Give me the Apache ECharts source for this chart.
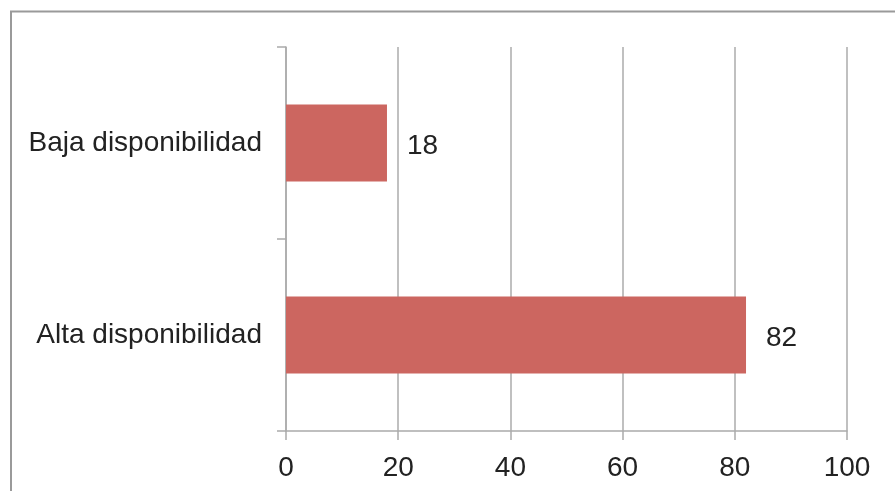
<!DOCTYPE html>
<html>
<head>
<meta charset="utf-8">
<script src="https://cdn.jsdelivr.net/npm/echarts@6/dist/echarts.min.js"></script>
<style>
html,body{margin:0;padding:0;background:#fff;}
#main{width:895px;height:491px;}
</style>
</head>
<body>
<div id="main"></div>
<script>
// data
let categories = ['Baja disponibilidad', 'Alta disponibilidad'];
let values = [18, 82];
let xTicks = [0, 20, 40, 60, 80, 100];

let myChart = echarts.init(document.getElementById('main'));
let gridColor = '#ababab';
let option = {
    animation: false,
    graphic: [{
        type: 'rect',
        shape: {x: 11, y: 11.5, width: 900, height: 500},
        style: {fill: 'none', stroke: '#9a9a9a', lineWidth: 2},
        silent: true
    }],
    grid: {left: 286, right: 48, top: 47, bottom: 60, containLabel: false},
    xAxis: {
        type: 'value',
        min: xTicks[0],
        max: xTicks[xTicks.length - 1],
        interval: 20,
        axisLine: {show: true, lineStyle: {color: gridColor, width: 1.5}},
        axisTick: {show: true, length: 9, lineStyle: {color: gridColor, width: 1.5}},
        splitLine: {show: true, lineStyle: {color: gridColor, width: 1.5}},
        axisLabel: {color: '#222', fontSize: 28, fontFamily: 'Liberation Sans', margin: 23}
    },
    yAxis: {
        type: 'category',
        inverse: true,
        data: categories,
        axisLine: {show: true, lineStyle: {color: gridColor, width: 1.5}},
        axisTick: {show: true, length: 9, lineStyle: {color: gridColor, width: 1.5}},
        axisLabel: {color: '#222', fontSize: 28, fontFamily: 'Liberation Sans', margin: 24, padding: [9, 0, 0, 0]}
    },
    series: [{
        type: 'bar',
        data: values,
        barWidth: '40%',
        itemStyle: {color: '#cc6660'},
        label: {
            show: true,
            position: 'right',
            distance: 20,
            offset: [0, 3],
            color: '#222',
            fontSize: 28,
            fontFamily: 'Liberation Sans'
        }
    }]
};
myChart.setOption(option);
</script>
</body>
</html>
